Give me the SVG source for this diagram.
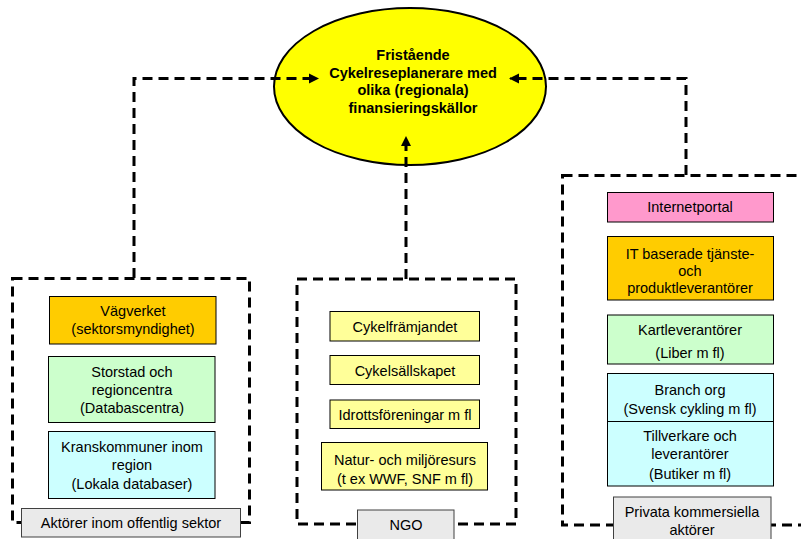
<svg xmlns="http://www.w3.org/2000/svg" width="801" height="539" viewBox="0 0 801 539">
<defs>
<style>
text{font-family:"Liberation Sans",Arial,sans-serif;font-size:14.5px;fill:#000;text-anchor:middle}
.title{font-weight:bold}
.grp{fill:none;stroke:#000;stroke-width:3;stroke-dasharray:10 6}
.conn{fill:none;stroke:#000;stroke-width:3;stroke-dasharray:10 6}
.box{stroke:#000;stroke-width:1}
.orange{fill:#FFCC00}
.green{fill:#CCFFCC}
.cyan{fill:#CCFFFF}
.yellow{fill:#FFFF99}
.pink{fill:#FF99CC}
.grey{fill:#EAEAEA;stroke:#404040;stroke-width:1}
</style>
<marker id="arr" viewBox="0 0 10 10" refX="9" refY="5" markerWidth="3.4" markerHeight="3.4" orient="auto" markerUnits="strokeWidth">
<path d="M0,0 L10,5 L0,10 Z" fill="#000"/>
</marker>
</defs>
<rect width="801" height="539" fill="#fff"/>

<g id="center">
<ellipse cx="410" cy="86.5" rx="136" ry="78.5" fill="#FFFF00" stroke="#000" stroke-width="2"/>
<text class="title" x="413" y="60">Fristående</text>
<text class="title" x="413" y="77.5">Cykelreseplanerare med</text>
<text class="title" x="413" y="95">olika (regionala)</text>
<text class="title" x="413" y="112.5">finansieringskällor</text>
</g>

<g id="public">
<rect class="grp" x="12.5" y="278.5" width="237" height="244"/>
<rect class="box orange" x="49.5" y="296.5" width="166.5" height="47.5"/>
<text x="133" y="316">Vägverket</text>
<text x="133" y="334">(sektorsmyndighet)</text>
<rect class="box green" x="48.5" y="356.5" width="166.5" height="66"/>
<text x="132" y="377">Storstad och</text>
<text x="132" y="394.5">regioncentra</text>
<text x="132" y="413">(Databascentra)</text>
<rect class="box cyan" x="48.5" y="431.5" width="166.5" height="67"/>
<text x="132" y="452">Kranskommuner inom</text>
<text x="132" y="469.5">region</text>
<text x="132" y="489">(Lokala databaser)</text>
<rect class="grey" x="21.5" y="508.5" width="219" height="28.5"/>
<text x="131" y="528">Aktörer inom offentlig sektor</text>
</g>

<g id="ngo">
<rect class="grp" x="297" y="279" width="219" height="245"/>
<rect class="box yellow" x="330" y="311.5" width="149.5" height="29.5"/>
<text x="405" y="332">Cykelfrämjandet</text>
<rect class="box yellow" x="330" y="355.5" width="149.5" height="29"/>
<text x="405" y="376">Cykelsällskapet</text>
<rect class="box yellow" x="330" y="400" width="149.5" height="28.5"/>
<text x="405" y="420">Idrottsföreningar m fl</text>
<rect class="box yellow" x="321.5" y="442.5" width="166" height="47.5"/>
<text x="405" y="465">Natur- och miljöresurs</text>
<text x="405" y="483.5">(t ex WWF, SNF m fl)</text>
<rect class="grey" x="357.5" y="510" width="96.5" height="35"/>
<text x="406" y="530">NGO</text>
</g>

<g id="private">
<rect class="grp" x="562.5" y="175.5" width="260" height="349.5"/>
<rect class="box pink" x="607.5" y="192.5" width="166" height="29.5"/>
<text x="690" y="212">Internetportal</text>
<rect class="box orange" x="607.5" y="236.5" width="166" height="63.5"/>
<text x="690" y="258.5">IT baserade tjänste-</text>
<text x="690" y="275.5">och</text>
<text x="690" y="293">produktleverantörer</text>
<rect class="box green" x="607.5" y="315" width="166" height="49"/>
<text x="690" y="335">Kartleverantörer</text>
<text x="690" y="357.5">(Liber m fl)</text>
<rect class="box cyan" x="607.5" y="373.5" width="166" height="48"/>
<text x="690" y="394.5">Branch org</text>
<text x="690" y="413.5">(Svensk cykling m fl)</text>
<rect class="box cyan" x="607.5" y="421.5" width="166" height="64.5"/>
<text x="690" y="441">Tillverkare och</text>
<text x="690" y="458.5">leverantörer</text>
<text x="690" y="478.5">(Butiker m fl)</text>
<rect class="grey" x="613.5" y="497" width="157.5" height="50"/>
<text x="692" y="517">Privata kommersiella</text>
<text x="692" y="535">aktörer</text>
</g>

<g id="connectors">
<path class="conn" d="M134,278 V78.5 H318" marker-end="url(#arr)"/>
<path class="conn" d="M686,175 V78.5 H510" marker-end="url(#arr)"/>
<path class="conn" d="M406,279 V137" marker-end="url(#arr)"/>
</g>
</svg>
